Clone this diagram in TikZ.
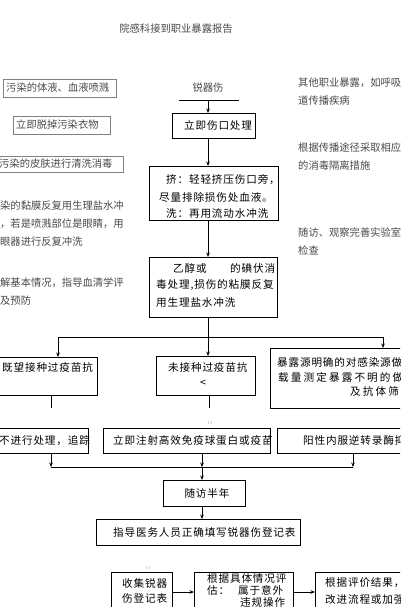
\documentclass[tikz,border=0pt]{standalone}
\usepackage{fontspec}
\usetikzlibrary{arrows.meta}
\newfontfamily\cjkside{Noto Sans CJK SC}
\newfontfamily\cjkmain[LetterSpace=8]{Noto Sans CJK SC}
\definecolor{sidegray}{HTML}{4A4A4A}
\definecolor{boxgray}{HTML}{808080}
\tikzset{
  sidetext/.style={font=\cjkside\fontsize{10.3}{18}\selectfont, text=sidegray, inner sep=0pt, anchor=west, align=left},
  sidebox/.style={draw=boxgray, line width=0.6pt, inner sep=0pt, anchor=north west},
  mainbox/.style={draw=black, line width=0.9pt, inner sep=0pt, anchor=north west},
  maintext/.style={font=\cjkmain\fontsize{10.6}{17}\selectfont, text=black, inner sep=0pt, anchor=west},
  arr/.style={-{Stealth[length=4.5pt,width=3.6pt]}, line width=0.7pt},
  conn/.style={line width=0.7pt},
  tinytext/.style={font=\fontsize{3.5}{4}\selectfont, text=gray, inner sep=0pt}
}
\begin{document}
\begin{tikzpicture}[x=1pt,y=-1pt]
\useasboundingbox (0,0) rectangle (400,607);
\clip (0,0) rectangle (400,607);
\fill[white] (0,0) rectangle (400,607);

% title
\node[sidetext, anchor=center] (title) at (176,29) {院感科接到职业暴露报告};

% left column
\node[sidebox, minimum width=113pt, minimum height=18pt] (l1) at (3,79) {};
\node[sidetext] (l1t) at (6,88) {污染的体液、血液喷溅};
\node[sidebox, minimum width=97pt, minimum height=18pt] (l2) at (13,116) {};
\node[sidetext] (l2t) at (16,125) {立即脱掉污染衣物};
\node[sidebox, minimum width=128pt, minimum height=16pt] (l3) at (-5,156) {};
\node[sidetext] (l3t) at (-1,164) {污染的皮肤进行清洗消毒};
\node[sidetext] (l4t) at (0,224) {染的黏膜反复用生理盐水冲\\，若是喷溅部位是眼睛，用\\眼器进行反复冲洗};
\node[sidetext] (l5t) at (0,292) {解基本情况，指导血清学评\\及预防};

% right column
\node[sidetext] (r1t) at (298,92) {其他职业暴露，如呼吸\\道传播疾病};
\node[sidetext] (r2t) at (298,157) {根据传播途径采取相应\\的消毒隔离措施};
\node[sidetext] (r3t) at (298,242) {随访、观察完善实验室\\检查};

% center column
\node[sidetext, anchor=center] (sharp) at (208,88) {锐器伤};
\coordinate (ln1) at (179,100);
\coordinate (ln2) at (239,100);
\coordinate (a0) at (208,100);
\draw[conn] (ln1) -- (ln2);

\node[mainbox, minimum width=83pt, minimum height=25pt] (c1) at (172,113) {};
\node[maintext] (c1t) at (184,125.5) {立即伤口处理};

\node[mainbox, minimum width=129pt, minimum height=54pt] (c2) at (149,166) {};
\node[maintext] (c2a) at (166,180) {挤：轻轻挤压伤口旁，};
\node[maintext] (c2b) at (159,197) {尽量排除损伤处血液。};
\node[maintext] (c2c) at (166,213) {洗：再用流动水冲洗};

\node[mainbox, minimum width=128pt, minimum height=60pt] (c3) at (149,257) {};
\node[maintext] (c3a) at (173,268) {乙醇或};
\node[maintext] (c3b) at (230,268) {的碘伏消};
\node[maintext] (c3c) at (156,285) {毒处理,损伤的粘膜反复};
\node[maintext] (c3d) at (156,302) {用生理盐水冲洗};

\draw[arr] (a0) -- (a0 |- c1.north);
\draw[arr] (a0 |- c1.south) -- (a0 |- c2.north);
\draw[arr] (a0 |- c2.south) -- (a0 |- c3.north);

% split
\coordinate (s0) at (208,337);
\coordinate (sL) at (58,337);
\coordinate (sR) at (383,337);
\draw[conn] (a0 |- c3.south) -- (s0);
\draw[conn] (sL) -- (sR);

\node[mainbox, minimum width=102pt, minimum height=38pt] (b1) at (-5,357) {};
\node[maintext] (b1t) at (2,367) {既望接种过疫苗抗};
\node[mainbox, minimum width=99pt, minimum height=39pt] (b2) at (156,356) {};
\node[maintext] (b2t) at (168,367) {未接种过疫苗抗};
\node[maintext, anchor=center] (b2s) at (203,383) {<};
\node[mainbox, minimum width=140pt, minimum height=60pt] (b3) at (270,348) {};
\node[maintext] (b3a) at (277,362) {暴露源明确的对感染源做};
\node[maintext] (b3b) at (278,377) {\addfontfeature{LetterSpace=20}载量测定暴露不明的做};
\node[maintext] (b3c) at (350,391) {\addfontfeature{LetterSpace=20}及抗体筛查};

\draw[arr] (sL) -- (sL |- b1.north);
\draw[arr] (s0) -- (s0 |- b2.north);
\draw[arr] (sR) -- (sR |- b3.north);

\coordinate (b1x) at (51,408);
\coordinate (b2x) at (209,408);
\draw[conn] (b1x |- b1.south) -- (b1x);
\draw[conn] (b2x |- b2.south) -- (b2x);
\node[tinytext] (mark1) at (210,423) {17};

% second row
\node[mainbox, minimum width=93pt, minimum height=25pt] (d1) at (-5,428) {};
\node[maintext] (d1t) at (-1,440.5) {不进行处理，追踪};
\node[mainbox, minimum width=167pt, minimum height=25pt] (d2) at (103,428) {};
\node[maintext] (d2t) at (113,440.5) {立即注射高效免疫球蛋白或疫苗};
\node[mainbox, minimum width=133pt, minimum height=25pt] (d3) at (277,428) {};
\node[maintext] (d3t) at (303,440.5) {阳性内服逆转录酶抑};

\coordinate (mL) at (51,467);
\coordinate (mM) at (202,467);
\coordinate (mR) at (353,467);
\draw[arr] (mL |- d1.south) -- (mL);
\draw[arr] (mM |- d2.south) -- (mM);
\draw[arr] (mR |- d3.south) -- (mR);
\draw[conn] (mL) -- (mR);

\node[mainbox, minimum width=82pt, minimum height=26pt] (e) at (163,480) {};
\node[maintext, anchor=center] (et) at (207,493) {随访半年};
\draw[arr] (mM) -- (mM |- e.north);

\node[mainbox, minimum width=204pt, minimum height=26pt] (f) at (96,519) {};
\node[maintext] (ft) at (113,532) {指导医务人员正确填写锐器伤登记表};
\draw[arr] (mM |- e.south) -- (mM |- f.north);

\node[tinytext] (mark2) at (148,568) {17};

% bottom row
\node[mainbox, minimum width=61pt, minimum height=45pt] (g1) at (111,572) {};
\node[maintext] (g1a) at (122,583) {收集锐器};
\node[maintext] (g1b) at (122,598) {伤登记表};
\node[mainbox, minimum width=99pt, minimum height=45pt] (g2) at (194,572) {};
\node[maintext] (g2a) at (207,578) {根据具体情况评};
\node[maintext] (g2b) at (207,590) {估：};
\node[maintext] (g2c) at (238,590) {属于意外};
\node[maintext] (g2d) at (240,602) {违规操作};
\node[mainbox, minimum width=95pt, minimum height=45pt] (g3) at (315,572) {};
\node[maintext] (g3a) at (325,583) {根据评价结果，};
\node[maintext] (g3b) at (325,600) {改进流程或加强};

\coordinate (ga) at (0,592);
\draw[arr] (g1.east |- ga) -- (g2.west |- ga);
\draw[arr] (g2.east |- ga) -- (g3.west |- ga);
\end{tikzpicture}
\end{document}
